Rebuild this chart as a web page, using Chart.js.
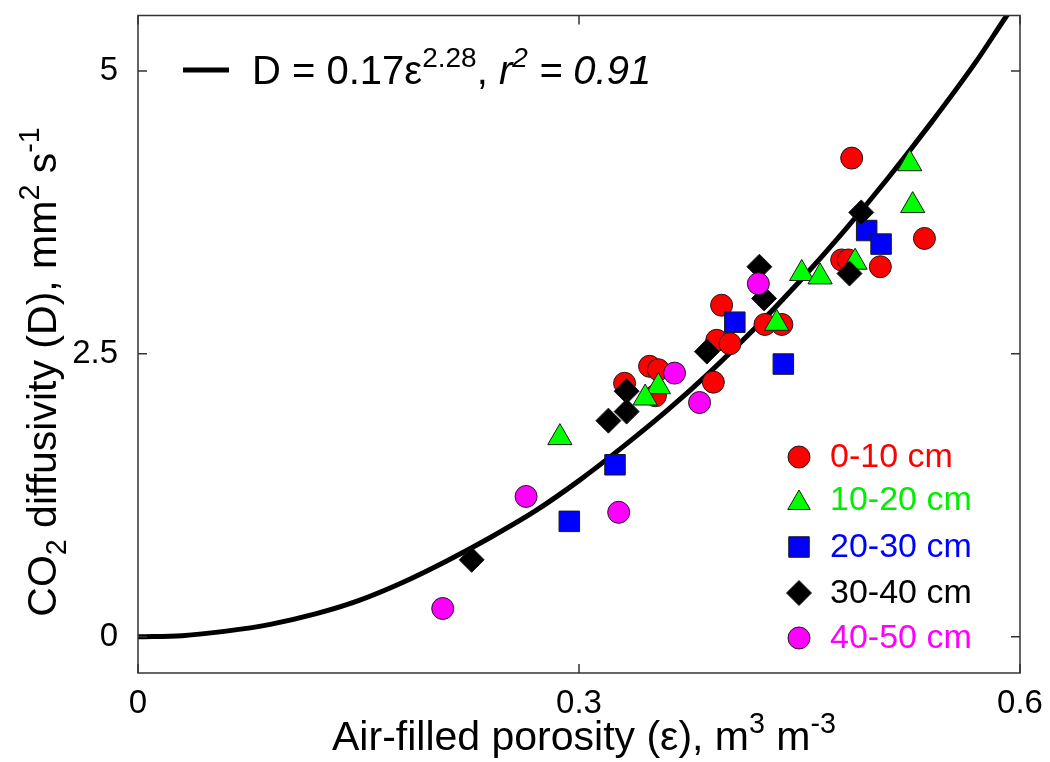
<!DOCTYPE html>
<html lang="en">
<head>
    <meta charset="UTF-8">
    <title>CO2 diffusivity vs air-filled porosity</title>
    <script src="https://cdn.jsdelivr.net/npm/chart.js"></script>
    <style>
        body { margin: 0; background: #fff; }
        canvas { display: block; }
    </style>
</head>
<body>
    <canvas id="diffChart" width="1050" height="762"></canvas>

    <script>
    // fitted curve
    const fitX = [0, 0.03, 0.06, 0.09, 0.12, 0.15, 0.18, 0.21, 0.24, 0.27, 0.30, 0.33, 0.36, 0.39, 0.42, 0.45, 0.48, 0.51, 0.54, 0.57, 0.59, 0.60];
    const fitY = [0, 0.01, 0.05, 0.11, 0.20, 0.32, 0.48, 0.67, 0.88, 1.11, 1.38, 1.68, 2.00, 2.35, 2.73, 3.14, 3.58, 4.05, 4.55, 5.08, 5.47, 5.66];

    // measured points per depth
    const redX = [0.4855, 0.535, 0.505, 0.4787, 0.4832, 0.397, 0.4265, 0.438, 0.3937, 0.4027, 0.3914, 0.348, 0.354, 0.331, 0.352];
    const redY = [4.23, 3.52, 3.27, 3.33, 3.33, 2.93, 2.76, 2.76, 2.62, 2.59, 2.25, 2.39, 2.36, 2.24, 2.13];
    const greenX = [0.525, 0.527, 0.4878, 0.4515, 0.464, 0.4345, 0.354, 0.345, 0.287];
    const greenY = [4.18, 3.81, 3.31, 3.21, 3.18, 2.77, 2.21, 2.11, 1.76];
    const blueX = [0.4957, 0.5055, 0.406, 0.439, 0.3245, 0.2934];
    const blueY = [3.59, 3.47, 2.78, 2.41, 1.52, 1.02];
    const blackX = [0.492, 0.484, 0.4227, 0.4259, 0.387, 0.3324, 0.3324, 0.320, 0.227];
    const blackY = [3.75, 3.21, 3.27, 2.99, 2.52, 2.17, 1.99, 1.91, 0.68];
    const pinkX = [0.422, 0.365, 0.382, 0.264, 0.327, 0.2073];
    const pinkY = [3.12, 2.33, 2.07, 1.24, 1.10, 0.25];

    const depthLabels = ['0-10 cm', '10-20 cm', '20-30 cm', '30-40 cm', '40-50 cm'];
    const xTicks = [0, 0.3, 0.6];
    const xTickLabels = ['0', '0.3', '0.6'];
    const yTicks = [0, 2.5, 5];
    const yTickLabels = ['0', '2.5', '5'];

    const FONT = '"Liberation Sans", Arial, Helvetica, sans-serif';

    const toPts = (xs, ys) => xs.map((x, i) => ({ x: x, y: ys[i] }));

    const styles = [
        { pointStyle: 'circle', radius: 11, fill: '#ff0000', text: '#ff0000' },
        { pointStyle: 'triangle', radius: 14, fill: '#00ff00', text: '#00ee00' },
        { pointStyle: 'rect', radius: 14.5, fill: '#0000ff', text: '#0000ff' },
        { pointStyle: 'rectRot', radius: 12.5, fill: '#000000', text: '#000000' },
        { pointStyle: 'circle', radius: 11, fill: '#ff00ff', text: '#ff00ff' }
    ];
    const series = [[redX, redY], [greenX, greenY], [blueX, blueY], [blackX, blackY], [pinkX, pinkY]];

    const markerSets = series.map((s, i) => ({
        label: depthLabels[i],
        data: toPts(s[0], s[1]),
        pointStyle: styles[i].pointStyle,
        pointRadius: styles[i].radius,
        pointHoverRadius: styles[i].radius,
        backgroundColor: styles[i].fill,
        borderColor: '#1a1a1a',
        borderWidth: 1,
        showLine: false,
        order: 5 - i
    }));

    const fitSet = {
        label: 'fit',
        data: toPts(fitX, fitY),
        showLine: true,
        borderColor: '#000',
        borderWidth: 5,
        pointRadius: 0,
        cubicInterpolationMode: 'monotone',
        order: 10
    };

    // draws text runs with sub/superscripts, returns width
    function drawRuns(ctx, runs, x, y, size, measureOnly) {
        let cx = x;
        runs.forEach(r => {
            const small = r.sup || r.sub;
            const fs = small ? size * 0.7 : size;
            ctx.font = (r.italic ? 'italic ' : '') + fs + 'px ' + FONT;
            const dy = r.sup ? -size * 0.42 : (r.sub ? size * 0.25 : 0);
            if (!measureOnly) ctx.fillText(r.t, cx, y + dy);
            cx += ctx.measureText(r.t).width;
        });
        return cx - x;
    }

    const decor = {
        id: 'decor',
        afterDraw(chart) {
            const ctx = chart.ctx;
            const a = chart.chartArea;
            const xs = chart.scales.x, ys = chart.scales.y;
            ctx.save();

            // frame + inward ticks
            ctx.strokeStyle = '#333';
            ctx.lineWidth = 1.5;
            ctx.strokeRect(a.left, a.top, a.right - a.left, a.bottom - a.top);
            ctx.beginPath();
            xTicks.forEach(v => {
                const px = xs.getPixelForValue(v);
                ctx.moveTo(px, a.bottom); ctx.lineTo(px, a.bottom - 9);
                ctx.moveTo(px, a.top); ctx.lineTo(px, a.top + 9);
            });
            yTicks.forEach(v => {
                const py = ys.getPixelForValue(v);
                ctx.moveTo(a.left, py); ctx.lineTo(a.left + 9, py);
                ctx.moveTo(a.right, py); ctx.lineTo(a.right - 9, py);
            });
            ctx.stroke();

            ctx.fillStyle = '#000';
            ctx.textBaseline = 'alphabetic';
            ctx.textAlign = 'left';

            // x title
            const xRuns = [
                { t: 'Air-filled porosity (\u03b5), m' }, { t: '3', sup: true },
                { t: ' m' }, { t: '-3', sup: true }
            ];
            const xw = drawRuns(ctx, xRuns, 0, 0, 41, true);
            drawRuns(ctx, xRuns, 584 - xw / 2, 750, 41);

            // y title
            const yRuns = [
                { t: 'CO' }, { t: '2', sub: true }, { t: ' diffusivity (D), mm' },
                { t: '2', sup: true }, { t: ' s' }, { t: '-1', sup: true }
            ];
            const yw = drawRuns(ctx, yRuns, 0, 0, 41, true);
            ctx.save();
            ctx.translate(56, 372);
            ctx.rotate(-Math.PI / 2);
            drawRuns(ctx, yRuns, -yw / 2, 0, 41);
            ctx.restore();

            // fit legend
            ctx.strokeStyle = '#000';
            ctx.lineWidth = 5;
            ctx.beginPath();
            ctx.moveTo(183, 70); ctx.lineTo(229, 70);
            ctx.stroke();
            drawRuns(ctx, [
                { t: 'D = 0.17\u03b5' }, { t: '2.28', sup: true }, { t: ', ' },
                { t: 'r', italic: true }, { t: '2', sup: true, italic: true },
                { t: ' = 0.91', italic: true }
            ], 252, 84, 40);

            // depth legend
            const rowY = [457, 500, 547, 593, 638];
            ctx.textBaseline = 'middle';
            ctx.font = '34px ' + FONT;
            styles.forEach((s, i) => {
                ctx.fillStyle = s.fill;
                ctx.strokeStyle = '#1a1a1a';
                ctx.lineWidth = 1;
                const r = s.pointStyle === 'triangle' ? 13 : s.radius;
                const off = s.pointStyle === 'triangle' ? 3 : 0;
                Chart.helpers.drawPoint(ctx, { pointStyle: s.pointStyle, radius: r, borderWidth: 1 }, 799, rowY[i] + off);
                ctx.fillStyle = s.text;
                ctx.fillText(depthLabels[i], 830, rowY[i] + 1);
            });
            ctx.restore();
        }
    };

    new Chart(document.getElementById('diffChart').getContext('2d'), {
        type: 'scatter',
        data: { datasets: [fitSet].concat(markerSets) },
        options: {
            responsive: false,
            animation: false,
            devicePixelRatio: 1,
            layout: { padding: { left: 0, top: 12, right: 30, bottom: 0 } },
            plugins: { legend: { display: false }, tooltip: { enabled: false } },
            scales: {
                x: {
                    type: 'linear',
                    min: 0, max: 0.6,
                    grid: { display: false },
                    border: { display: false },
                    afterFit: s => { s.height = 89; s.paddingLeft = 0; s.paddingRight = 0; },
                    afterBuildTicks: s => { s.ticks = xTicks.map(v => ({ value: v })); },
                    ticks: {
                        padding: 3,
                        color: '#000',
                        font: { family: FONT, size: 33 },
                        callback: (v) => xTickLabels[xTicks.indexOf(v)]
                    }
                },
                y: {
                    type: 'linear',
                    min: -0.32, max: 5.49,
                    grid: { display: false },
                    border: { display: false },
                    afterFit: s => { s.width = 138; s.paddingTop = 0; s.paddingBottom = 0; },
                    afterBuildTicks: s => { s.ticks = yTicks.map(v => ({ value: v })); },
                    ticks: {
                        padding: 12,
                        color: '#000',
                        font: { family: FONT, size: 33 },
                        callback: (v) => yTickLabels[yTicks.indexOf(v)]
                    }
                }
            }
        },
        plugins: [decor]
    });
    </script>
</body>
</html>
